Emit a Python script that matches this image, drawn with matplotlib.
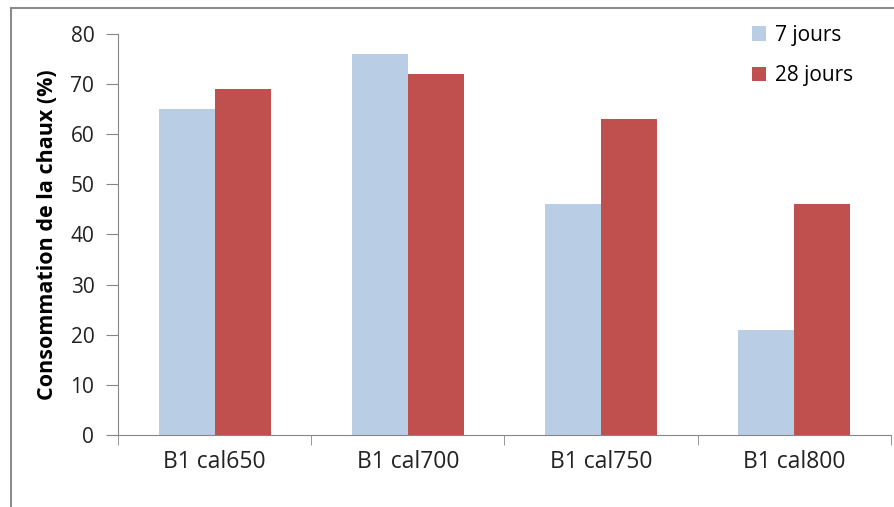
import matplotlib.pyplot as plt
import numpy as np
from matplotlib.lines import Line2D

plt.rcParams['font.family'] = ['Open Sans', 'DejaVu Sans']

# Consommation de la chaux par échantillon
categories = ['B1 cal650', 'B1 cal700', 'B1 cal750', 'B1 cal800']
jours_7 = [65, 76, 46, 21]
jours_28 = [69, 72, 63, 46]

fig = plt.figure(figsize=(8.95, 5.07), dpi=100)
ax = fig.add_axes([0.1318, 0.142, 0.8637, 0.791])

x = np.arange(len(categories))
w = 0.29
ax.bar(x - w / 2, jours_7, w, color='#B9CDE5', label='7 jours')
ax.bar(x + w / 2, jours_28, w, color='#C0504D', label='28 jours')

ax.set_xlim(-0.5, len(categories) - 0.5)
ax.set_ylim(0, 80)
ax.set_yticks(range(0, 81, 10))
ax.set_xticks(x)
ax.set_xticklabels(categories)
ax.set_xticks(np.arange(-0.5, len(categories)), minor=True)

for side in ['top', 'right']:
    ax.spines[side].set_visible(False)
for side in ['left', 'bottom']:
    ax.spines[side].set_color('#868686')
ax.tick_params(axis='y', length=9, color='#868686', labelsize=15, pad=8, labelcolor='#222222')
ax.tick_params(axis='x', which='major', length=0, labelsize=16.5, pad=11, labelcolor='#222222')
ax.tick_params(axis='x', which='minor', length=7, color='#868686')

ax.set_ylabel('Consommation de la chaux (%)', fontsize=15.5, fontweight='bold', labelpad=9)

ax.legend(loc='upper right', bbox_to_anchor=(0.975, 1.07), frameon=False, fontsize=15,
          handlelength=0.7, handleheight=0.7, labelspacing=0.95, handletextpad=0.4)

# cadre gris autour du graphique
fig.add_artist(Line2D([0.012, 0.012], [0, 0.984], color='#8c8c8c', lw=1.5))
fig.add_artist(Line2D([0.012, 1.0], [0.984, 0.984], color='#8c8c8c', lw=1.5))

fig.savefig('out.png', dpi=100)
